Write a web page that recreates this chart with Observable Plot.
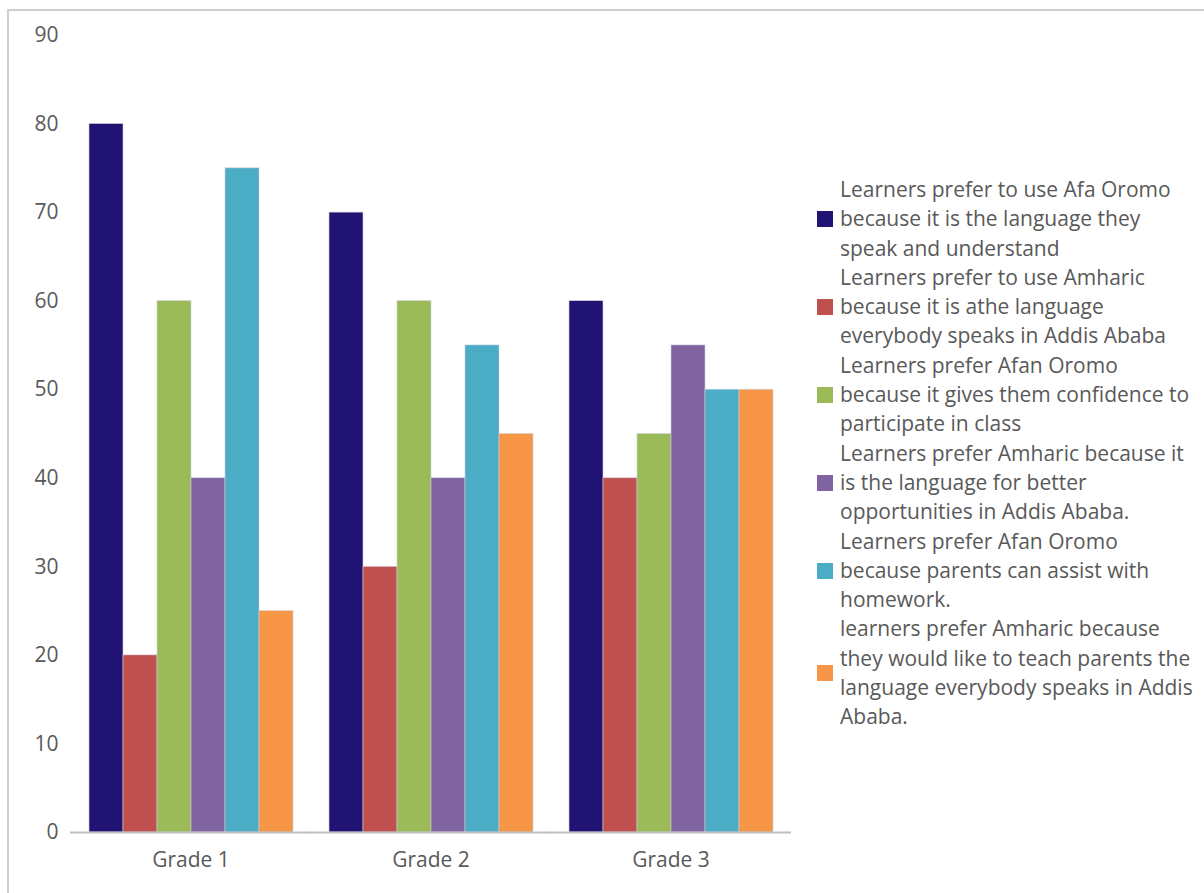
<!DOCTYPE html>
<html>
<head>
<meta charset="utf-8">
<script src="https://cdn.jsdelivr.net/npm/d3@7"></script>
<script src="https://cdn.jsdelivr.net/npm/@observablehq/plot@0.6"></script>
<style>
  html, body { margin: 0; padding: 0; background: #fff; }
  body { width: 1204px; height: 893px; position: relative; overflow: hidden; font-family: "Open Sans", sans-serif; }
  #frame { position: absolute; left: 7px; top: 9px; right: -2px; bottom: -2px; border-top: 2px solid #cfcfcf; border-left: 2px solid #cfcfcf; }
  #chart { position: absolute; left: 0; top: 0; }
  #legend { position: absolute; left: 817px; top: 175px; color: #595959; font-size: 21px; line-height: 29.3px; }
  .item { display: flex; align-items: center; }
  .sw { width: 16px; height: 16px; margin-right: 7px; flex: none; }
  .lab { white-space: pre-line; }
</style>
</head>
<body>
<div id="frame"></div>
<div id="chart"></div>
<div id="legend"></div>
<script>
const grades = ["Grade 1", "Grade 2", "Grade 3"];
const seriesLabels = [
  "Learners prefer to use Afa Oromo\nbecause it is the language they\nspeak and understand",
  "Learners prefer to use Amharic\nbecause it is athe language\neverybody speaks in Addis Ababa",
  "Learners prefer Afan Oromo\nbecause it gives them confidence to\nparticipate in class",
  "Learners prefer Amharic because it\nis the language for better\nopportunities in Addis Ababa.",
  "Learners prefer Afan Oromo\nbecause parents can assist with\nhomework.",
  "learners prefer Amharic because\nthey would like to teach parents the\nlanguage everybody speaks in Addis\nAbaba."
];
const seriesColors = ["#211373", "#c0504d", "#9bbb59", "#8064a2", "#4bacc6", "#f79646"];
const afanOromoUnderstand = [80, 70, 60];
const amharicEverybody = [20, 30, 40];
const afanOromoConfidence = [60, 60, 45];
const amharicOpportunities = [40, 40, 55];
const afanOromoHomework = [75, 55, 50];
const amharicTeachParents = [25, 45, 50];
const yTicks = [0, 10, 20, 30, 40, 50, 60, 70, 80, 90];

const seriesValues = [afanOromoUnderstand, amharicEverybody, afanOromoConfidence,
  amharicOpportunities, afanOromoHomework, amharicTeachParents];
const keys = seriesLabels.map((_, i) => "s" + i);
const data = [];
grades.forEach((g, gi) => {
  seriesValues.forEach((vals, si) => {
    data.push({grade: g, series: keys[si], value: vals[gi]});
  });
});

const chart = Plot.plot({
  width: 800,
  height: 893,
  marginTop: 35,
  marginBottom: 61,
  marginLeft: 70,
  marginRight: 10,
  style: {fontFamily: "Open Sans, sans-serif", fontSize: "21px", color: "#595959", background: "transparent"},
  fx: {domain: grades, paddingInner: 0.146, paddingOuter: 0.073, label: null, axis: "bottom", tickSize: 0, tickPadding: 20},
  x: {domain: keys, axis: null, padding: 0},
  y: {domain: [0, 90], ticks: yTicks, tickSize: 0, tickPadding: 30, label: null},
  color: {domain: keys, range: seriesColors},
  marks: [
    Plot.barY(data, {fx: "grade", x: "series", y: "value", fill: "series", stroke: "#d0d0dc", strokeWidth: 0.6}),
    Plot.ruleY([0], {stroke: "#bfbfbf", strokeWidth: 2, insetLeft: -18, insetRight: -18})
  ]
});
document.getElementById("chart").appendChild(chart);

const legend = document.getElementById("legend");
seriesLabels.forEach((lab, i) => {
  const item = document.createElement("div");
  item.className = "item";
  const sw = document.createElement("div");
  sw.className = "sw";
  sw.style.background = seriesColors[i];
  const t = document.createElement("div");
  t.className = "lab";
  t.textContent = lab;
  item.appendChild(sw);
  item.appendChild(t);
  legend.appendChild(item);
});
</script>
</body>
</html>
